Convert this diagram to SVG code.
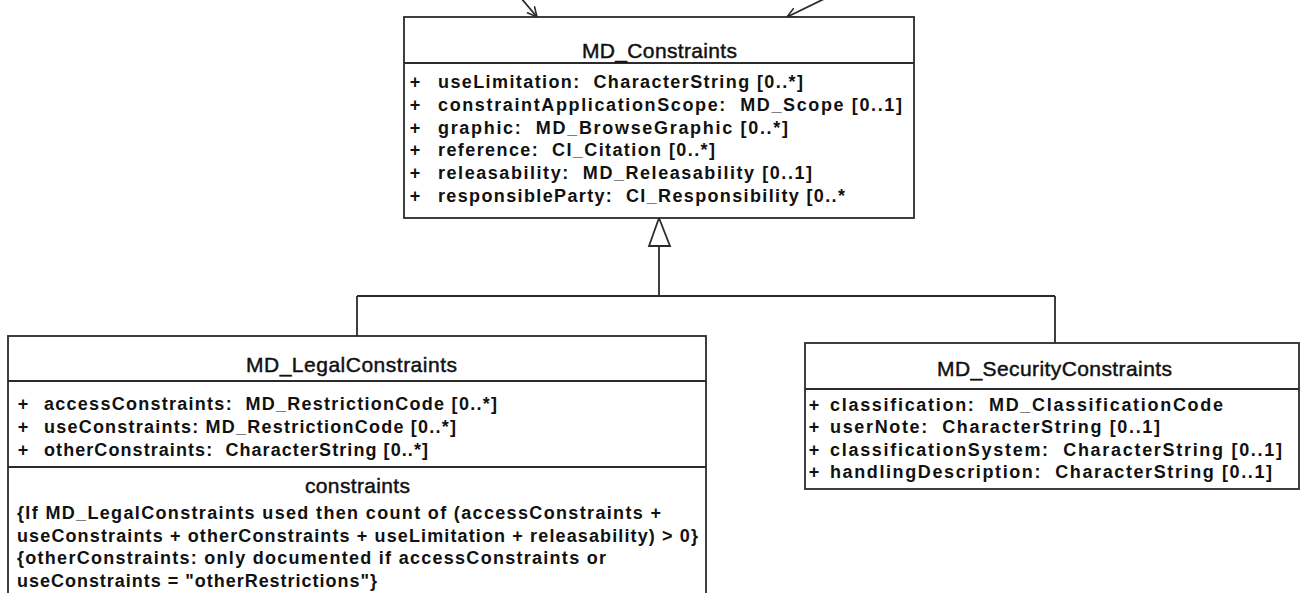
<svg xmlns="http://www.w3.org/2000/svg" width="1301" height="593" viewBox="0 0 1301 593">
<style>
.box{fill:#fff;stroke:#2b2b2b;stroke-width:1.8}
.div{stroke:#2b2b2b;stroke-width:1.8}
.title{font-family:"Liberation Sans",Arial,sans-serif;font-size:21px;fill:#111;stroke:#111;stroke-width:0.45;text-anchor:middle}
.attr{font-family:"Liberation Sans",Arial,sans-serif;font-size:18px;font-weight:bold;fill:#111;white-space:pre}
.plus{font-family:"Liberation Sans",Arial,sans-serif;font-size:18px;font-weight:bold;fill:#111;text-anchor:middle}
.conn{fill:none;stroke:#2b2b2b;stroke-width:1.8}
</style>
<defs>
<marker id="open" markerUnits="userSpaceOnUse" markerWidth="12" markerHeight="12" refX="10" refY="5" orient="auto" viewBox="0 0 12 10">
<path d="M0,0 L10,5 L0,10" fill="none" stroke="#2b2b2b" stroke-width="1.6"/>
</marker>
</defs>
<rect width="1301" height="593" fill="#fff"/>
<g id="connectors">
<path class="conn" d="M521,-2 L537,17" marker-end="url(#open)"/>
<path class="conn" d="M824,-1 L787,17" marker-end="url(#open)"/>
<path class="conn" d="M659,246 L659,296 M357,296 L1055,296 M357,296 L357,336 M1055,296 L1055,343"/>
<polygon points="659,218 649,246 670,246" fill="#fff" stroke="#2b2b2b" stroke-width="1.8"/>
</g>
<g id="MD_Constraints">
<rect class="box" x="404" y="17" width="510" height="201"/>
<line class="div" x1="404" y1="63" x2="914" y2="63"/>
<text class="title" x="659.5" y="58" textLength="155" lengthAdjust="spacing">MD_Constraints</text>
<text class="plus" x="415" y="88">+</text>
<text class="plus" x="415" y="110.8">+</text>
<text class="plus" x="415" y="133.6">+</text>
<text class="plus" x="415" y="156.4">+</text>
<text class="plus" x="415" y="179.2">+</text>
<text class="plus" x="415" y="202">+</text>
<text class="attr" x="438" y="88" textLength="365" lengthAdjust="spacing">useLimitation:  CharacterString [0..*]</text>
<text class="attr" x="438" y="110.8" textLength="464" lengthAdjust="spacing">constraintApplicationScope:  MD_Scope [0..1]</text>
<text class="attr" x="438" y="133.6" textLength="350" lengthAdjust="spacing">graphic:  MD_BrowseGraphic [0..*]</text>
<text class="attr" x="438" y="156.4" textLength="277" lengthAdjust="spacing">reference:  CI_Citation [0..*]</text>
<text class="attr" x="438" y="179.2" textLength="374" lengthAdjust="spacing">releasability:  MD_Releasability [0..1]</text>
<text class="attr" x="438" y="202" textLength="407" lengthAdjust="spacing">responsibleParty:  CI_Responsibility [0..*</text>
</g>
<g id="MD_LegalConstraints">
<rect class="box" x="8" y="336" width="698" height="270"/>
<line class="div" x1="8" y1="381" x2="706" y2="381"/>
<line class="div" x1="8" y1="467" x2="706" y2="467"/>
<text class="title" x="351.5" y="372" textLength="211" lengthAdjust="spacing">MD_LegalConstraints</text>
<text class="plus" x="23" y="410">+</text>
<text class="plus" x="23" y="433">+</text>
<text class="plus" x="23" y="456">+</text>
<text class="attr" x="44" y="410" textLength="453" lengthAdjust="spacing">accessConstraints:  MD_RestrictionCode [0..*]</text>
<text class="attr" x="44" y="433" textLength="412" lengthAdjust="spacing">useConstraints: MD_RestrictionCode [0..*]</text>
<text class="attr" x="44" y="456" textLength="384" lengthAdjust="spacing">otherConstraints:  CharacterString [0..*]</text>
<text class="title" x="357.5" y="493" textLength="105" lengthAdjust="spacing">constraints</text>
<text class="attr" x="17" y="518.5" textLength="644" lengthAdjust="spacing">{If MD_LegalConstraints used then count of (accessConstraints +</text>
<text class="attr" x="17" y="541.5" textLength="681" lengthAdjust="spacing">useConstraints + otherConstraints + useLimitation + releasability) &gt; 0}</text>
<text class="attr" x="17" y="564" textLength="589" lengthAdjust="spacing">{otherConstraints: only documented if accessConstraints or</text>
<text class="attr" x="17" y="586.7" textLength="360" lengthAdjust="spacing">useConstraints = "otherRestrictions"}</text>
</g>
<g id="MD_SecurityConstraints">
<rect class="box" x="805" y="343" width="494" height="146"/>
<line class="div" x1="805" y1="389" x2="1299" y2="389"/>
<text class="title" x="1054.5" y="376" textLength="235" lengthAdjust="spacing">MD_SecurityConstraints</text>
<text class="plus" x="814" y="410.5">+</text>
<text class="plus" x="814" y="433">+</text>
<text class="plus" x="814" y="455.5">+</text>
<text class="plus" x="814" y="478">+</text>
<text class="attr" x="830" y="410.5" textLength="393" lengthAdjust="spacing">classification:  MD_ClassificationCode</text>
<text class="attr" x="830" y="433" textLength="330" lengthAdjust="spacing">userNote:  CharacterString [0..1]</text>
<text class="attr" x="830" y="455.5" textLength="452" lengthAdjust="spacing">classificationSystem:  CharacterString [0..1]</text>
<text class="attr" x="830" y="478" textLength="442" lengthAdjust="spacing">handlingDescription:  CharacterString [0..1]</text>
</g>
</svg>
